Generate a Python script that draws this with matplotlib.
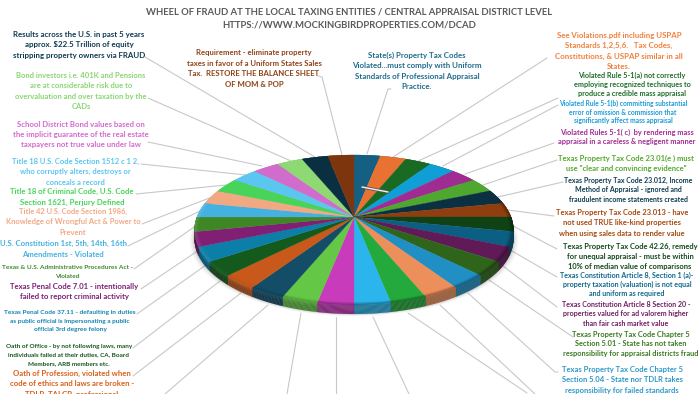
import numpy as np
import matplotlib
matplotlib.use("Agg")
import matplotlib.pyplot as plt
from matplotlib.colors import to_rgb

# 32 equal slices, clockwise from 12 o'clock
slice_values = [1] * 32
slice_colors = [
    "#156082", "#e97132", "#196b24", "#0f9ed5", "#a02b93", "#4ea72e", "#0b3041", "#8f3e10",
    "#0f4316", "#0b5f82", "#601a58", "#2f641b", "#1f8fc4", "#ed8f5b", "#24aa3c", "#2bb5ec",
    "#c83cbb", "#64c846", "#134d68", "#c9591a", "#145a1d", "#0c7fa9", "#801f74", "#3f8625",
    "#45b1e1", "#f1a983", "#47d459", "#5bc7f0", "#d16ccc", "#8ed973", "#0a2f40", "#7c350d",
]

title_lines = [
    "WHEEL OF FRAUD AT THE LOCAL TAXING ENTITIES / CENTRAL APPRAISAL DISTRICT LEVEL",
    "HTTPS://WWW.MOCKINGBIRDPROPERTIES.COM/DCAD",
]

# label text blocks
label_lines = [
    ["Results across the U.S. in past 5 years", "approx. $22.5 Trillion of equity", "stripping property owners via FRAUD"],
    ["Requirement - eliminate property", "taxes in favor of a Uniform States Sales", "Tax.  RESTORE THE BALANCE SHEET", "OF MOM & POP"],
    ["Bond investors i.e. 401K and Pensions", "are at considerable risk due to", "overvaluation and over taxation by the", "CADs"],
    ["School District Bond values based on", "the implicit guarantee of the real estate", "taxpayers not true value under law"],
    ["Title 18 U.S. Code Section 1512 c 1 2,", "who corruptly alters, destroys or", "conceals a record"],
    ["Title 18 of Criminal Code, U.S. Code", "Section 1621, Perjury Defined"],
    ["Title 42 U.S. Code Section 1986,", "Knowledge of Wrongful Act & Power to", "Prevent"],
    ["U.S. Constitution 1st, 5th, 14th, 16th", "Amendments - Violated"],
    ["Texas & U.S. Administrative Procedures Act -", "Violated"],
    ["Texas Penal Code 7.01 - intentionally", "failed to report criminal activity"],
    ["Texas Penal Code 37.11 - defaulting in duties", "as public official is impersonating a public", "official 3rd degree felony"],
    ["Oath of Office - by not following laws, many", "individuals failed at their duties, CA, Board", "Members, ARB members etc."],
    ["Oath of Profession, violated when", "code of ethics and laws are broken -", "TDLR, TALCB, professional"],
    ["State(s) Property Tax Codes", "Violated...must comply with Uniform", "Standards of Professional Appraisal", "Practice."],
    ["See Violations.pdf including USPAP", "Standards 1,2,5,6.   Tax Codes,", "Constitutions, & USPAP similar in all", "States."],
    ["Violated Rule 5-1(a) not correctly", "employing recognized techniques to", "produce a credible mass appraisal"],
    ["Violated Rule 5-1(b) committing substantial", "error of omission & commission that", "significantly affect mass appraisal"],
    ["Violated Rules 5-1( c)  by rendering mass", "appraisal in a careless & negligent manner"],
    ["Texas Property Tax Code 23.01(e ) must", "use \"clear and convincing evidence\""],
    ["Texas Property Tax Code 23.012, Income", "Method of Appraisal - ignored and", "fraudulent income statements created"],
    ["Texas Property Tax Code 23.013 - have", "not used TRUE like-kind properties", "when using sales data to render value"],
    ["Texas Property Tax Code 42.26, remedy", "for unequal appraisal - must be within", "10% of median value of comparisons"],
    ["Texas Constitution Article 8, Section 1 (a)-", "property taxation (valuation) is not equal", "and uniform as required"],
    ["Texas Constitution Article 8 Section 20 -", "properties valued for ad valorem higher", "than fair cash market value"],
    ["Texas Property Tax Code Chapter 5", "Section 5.01 - State has not taken", "responsibility for appraisal districts fraud"],
    ["Texas Property Tax Code Chapter 5", "Section 5.04 - State nor TDLR takes", "responsibility for failed standards"],
]
label_colors = [
    "#0e3a52", "#8f4318", "#8ad672", "#d36ad0", "#5bc5f0", "#47d45a", "#f2a884", "#45b1e1", "#3f8a2a",
    "#7d2075", "#1383b0", "#14571f", "#d9601a", "#1f6c8e", "#f0803c", "#1e6e2a", "#1a9bd8", "#a02b93",
    "#55a82e", "#0f3d52", "#a5490e", "#11491a", "#0f6a8c", "#701f68", "#3a7a22", "#2e98c8",
]

# layout: centre x, first line y, line pitch, width of the widest line in pixels
label_x = [79, 254, 81, 81, 75, 72, 73, 63, 67, 74, 70, 69, 72, 417, 619, 632, 623, 627, 626, 628, 622, 630, 627, 626, 631, 622]
label_y = [34, 52, 75, 124, 161, 191, 211, 243, 266, 286, 311, 345, 373, 55, 35, 75, 103, 132, 158, 180, 212, 246, 275, 304, 334, 369]
label_pitch = [10.5, 10.7, 10.4, 10.2, 10.5, 10.8, 10.5, 10.8, 9.2, 10.3, 8.8, 8.7, 10.5, 10.4, 10.4, 9.3, 8.8, 9.6, 10.4, 9.4, 10.4, 10.2, 9.3, 9.5, 9.6, 10.5]
label_width = [132, 136, 133, 137, 129, 124, 133, 126, 130, 128, 130, 126, 125, 129, 127, 117, 127, 136, 136, 130, 132, 136, 135, 128, 134, 121]

# leader lines
leader_lines = [
    [(145, 57), (315, 157)], [(318, 76), (322, 77), (342, 155)], [(148, 98), (291, 161)],
    [(148, 142), (262, 166)], [(141, 164), (246, 175)], [(136, 194), (226, 185)],
    [(142, 224), (212, 197)], [(128, 246), (202, 210)], [(134, 269), (197, 225)],
    [(141, 289), (199, 250)], [(137, 314), (206, 265)], [(133, 348), (220, 281)],
    [(133, 376), (241, 293)], [(165, 394), (268, 305)], [(287, 394), (301, 313)],
    [(336, 394), (336, 317)], [(373, 317), (409, 394)], [(408, 313), (527, 393)],
    [(440, 305), (535, 394)], [(468, 293), (555, 372), (558, 372)], [(489, 280), (573, 337)],
    [(503, 266), (557, 307)], [(512, 251), (557, 277)], [(513, 226), (557, 249)],
    [(508, 210), (554, 216)], [(498, 197), (563, 182)], [(483, 185), (557, 160)],
    [(465, 174), (554, 143)], [(443, 166), (558, 105)], [(418, 161), (558, 98)],
    [(393, 157), (547, 58)], [(367, 154), (388, 89), (391, 89)],
]

plt.rcParams["font.family"] = "Lato"

# pie placement in image pixels, with the perspective of a tilted disc
cx, cy = 354, 217
rx, ry = 157, 72.7
tilt = 0.173
rim = 9


def project(theta, r=1.0):
    u, v = r * np.sin(theta), r * np.cos(theta)
    w = 1 + tilt * v
    return cx + rx * u / w, cy - ry * v / w


def shade(color, f):
    c = np.array(to_rgb(color))
    if f > 1:
        return tuple(c + (1 - c) * (f - 1))
    return tuple(c * f)


def rim_factor(theta, t):
    # lit from the left: a bright band on top of the rim there, dark on the right
    left = max(0.0, -np.sin(theta))
    return 0.64 + 0.5 * left * max(0.0, 1 - t / 0.5)


fig = plt.figure(figsize=(7, 3.94), dpi=100)
ax = fig.add_axes([0, 0, 1, 1])
ax.set_xlim(0, 700)
ax.set_ylim(394, 0)
ax.axis("off")
renderer = fig.canvas.get_renderer()


def fitted_size(lines, width):
    # font size that gives the widest line the width seen in the picture
    widest = 0
    for line in lines:
        probe = ax.text(0, 0, line, fontsize=10, fontweight="bold")
        widest = max(widest, probe.get_window_extent(renderer).width)
        probe.remove()
    return 10 * width / widest


# leader lines go under the pie
for pts in leader_lines:
    xs, ys = zip(*pts)
    ax.plot(xs, ys, color="#c8c8c8", lw=0.8, zorder=1, solid_capstyle="round")

edges = np.cumsum([0] + slice_values) / sum(slice_values) * 2 * np.pi

# soft shadow
all_theta = np.linspace(0, 2 * np.pi, 300)
sx, sy = project(all_theta)
for grow, alpha in zip([5, 3.5, 2, 1], [0.03, 0.04, 0.06, 0.08]):
    ax.fill(cx + (sx - cx) * (1 + grow / 160), sy + rim + grow * 0.45,
            color="black", alpha=alpha, lw=0, zorder=2)

# rim strips
strip_t = np.linspace(0, 1, 11)
for i, color in enumerate(slice_colors):
    th = np.linspace(edges[i], edges[i + 1], 24)
    mid = (edges[i] + edges[i + 1]) / 2
    x, y = project(th)
    for t0, t1 in zip(strip_t[:-1], strip_t[1:]):
        f = rim_factor(mid, (t0 + t1) / 2)
        ax.fill(np.r_[x, x[::-1]], np.r_[y + rim * t0, (y + rim * t1)[::-1]],
                color=shade(color, f), lw=0.2, zorder=3)

# top surface, darkening softly into the rim at the front
ring_r = np.linspace(0.975, 1.0, 5)
for i, color in enumerate(slice_colors):
    th = np.linspace(edges[i], edges[i + 1], 24)
    mid = (edges[i] + edges[i + 1]) / 2
    x, y = project(th)
    ax.fill(np.r_[cx, x], np.r_[cy, y], color=color, lw=0.2, zorder=4)
    if np.cos(mid) < 0.15:
        end = rim_factor(mid, 0)
        for r0, r1 in zip(ring_r[:-1], ring_r[1:]):
            k = (r1 - ring_r[0]) / (ring_r[-1] - ring_r[0])
            xa, ya = project(th, r0)
            xb, yb = project(th, r1)
            ax.fill(np.r_[xa, xb[::-1]], np.r_[ya, yb[::-1]],
                    color=shade(color, 1 + (end - 1) * k), lw=0.2, zorder=5)

# small bar on the pie
ax.plot([362, 388], [187, 192], color="#555555", lw=2.2, zorder=6, solid_capstyle="round")
ax.plot([362, 388], [187, 192], color="#f0f0f0", lw=1.0, zorder=7, solid_capstyle="round")

title_size = fitted_size(title_lines, 412)
for line, y in zip(title_lines, [11, 24]):
    ax.text(349, y + 3.2, line, ha="center", va="baseline", fontsize=title_size,
            fontweight="bold", color="#595959", zorder=8)

for lines, color, x0, y0, pitch, width in zip(label_lines, label_colors, label_x, label_y, label_pitch, label_width):
    size = fitted_size(lines, width)
    for j, line in enumerate(lines):
        ax.text(x0, y0 + j * pitch + 2.8, line, ha="center", va="baseline", fontsize=size,
                fontweight="bold", color=color, zorder=8)

fig.savefig("out.png", dpi=100)
